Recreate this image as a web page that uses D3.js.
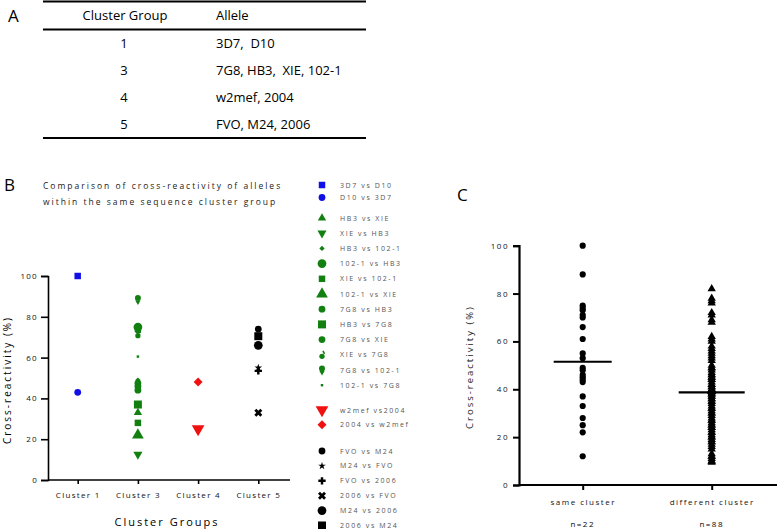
<!DOCTYPE html>
<html><head><meta charset="utf-8">
<script src="https://cdn.jsdelivr.net/npm/d3@7"></script>
<style>body{margin:0;background:#fff} text{font-family:"Open Sans","DejaVu Sans",sans-serif}</style>
</head><body>
<svg id="c" width="777" height="529"></svg>
<script>
// ---------- DATA ----------
const tableHeader = ["Cluster Group", "Allele"];
const tableGroups = ["1", "3", "4", "5"];
const tableAlleles = ["3D7,  D10", "7G8, HB3,  XIE, 102-1", "w2mef, 2004", "FVO, M24, 2006"];

const clusters = ["Cluster 1", "Cluster 3", "Cluster 4", "Cluster 5"];
const seriesNames = ["3D7 vs D10", "D10 vs 3D7",
  "HB3 vs XIE", "XIE vs HB3", "HB3 vs 102-1", "102-1 vs HB3", "XIE vs 102-1", "102-1 vs XIE",
  "7G8 vs HB3", "HB3 vs 7G8", "7G8 vs XIE", "XIE vs 7G8", "7G8 vs 102-1", "102-1 vs 7G8",
  "w2mef vs2004", "2004 vs w2mef",
  "FVO vs M24", "M24 vs FVO", "FVO vs 2006", "2006 vs FVO", "M24 vs 2006", "2006 vs M24"];
const seriesCluster = ["Cluster 1", "Cluster 1",
  "Cluster 3", "Cluster 3", "Cluster 3", "Cluster 3", "Cluster 3", "Cluster 3",
  "Cluster 3", "Cluster 3", "Cluster 3", "Cluster 3", "Cluster 3", "Cluster 3",
  "Cluster 4", "Cluster 4",
  "Cluster 5", "Cluster 5", "Cluster 5", "Cluster 5", "Cluster 5", "Cluster 5"];
const seriesValues = [[100], [43],
  [33], [12.5], [49], [75], [28], [22],
  [47.5, 44], [37], [73.5, 46], [71.5], [88.5], [60.5],
  [25], [48],
  [74], [55], [53.5], [33], [66], [70.5]];
const yTicks = [0, 20, 40, 60, 80, 100];

const groupsC = ["same cluster", "different cluster"];
const countsC = ["n=22", "n=88"];
const sameValues = [100, 88, 75, 74, 73, 71, 70, 66, 61, 55, 53, 49, 48, 46, 45, 44, 43, 37, 33, 28, 25, 22, 12];
const diffValues = [82, 78, 77, 76, 72, 71, 69, 68, 62, 61, 60, 58, 57, 56, 55, 54, 53, 52, 50, 49, 49, 48, 47, 46, 46, 45, 45, 44,
  44, 43, 42, 42, 41, 41, 40, 40, 40, 39.5, 39.5, 39, 39, 39, 39, 39,
  38.5, 38, 38, 37, 37, 36, 36, 35, 35, 34, 33, 32, 32, 31, 30, 30, 29, 28, 27, 27,
  26, 25, 25, 24, 24, 23, 22, 22, 21, 20, 20, 19, 18, 18, 17, 16, 15, 13, 12, 12, 11, 10, 10, 9.5];
const mediansC = [51.5, 38.7];

// ---------- STYLE ----------
const seriesShape = ["square", "circle",
  "triUpS", "triDown", "diamondS", "circleL", "square", "triUp",
  "circle", "squareL", "circle", "odd", "pin", "dot",
  "triDownL", "diamond",
  "circle", "star", "plus", "x", "circleL", "squareL"];
const blue = "#1010e6", green = "#118011", red = "#f01010", black = "#000";
const seriesColor = seriesCluster.map(c => c === "Cluster 1" ? blue : c === "Cluster 3" ? green : c === "Cluster 4" ? red : black);

const svg = d3.select("#c");

function marker(g, shape, color) {
  const S = (t, a) => d3.symbol().type(t).size(a)();
  const add = (d, tr) => g.append("path").attr("d", d).attr("fill", color).attr("transform", tr || null);
  switch (shape) {
    case "square": add(S(d3.symbolSquare, 42)); break;
    case "squareL": add(S(d3.symbolSquare, 64)); break;
    case "circle": add(S(d3.symbolCircle, 36)); break;
    case "circleL": add(S(d3.symbolCircle, 60)); break;
    case "triUp": add(S(d3.symbolTriangle, 60)); break;
    case "triUpS": add(S(d3.symbolTriangle, 30)); break;
    case "triDown": add(S(d3.symbolTriangle, 36), "rotate(180)"); break;
    case "triDownL": add(S(d3.symbolTriangle, 70), "rotate(180)"); break;
    case "diamondS": add(S(d3.symbolSquare, 14), "rotate(45)"); break;
    case "diamond": add(S(d3.symbolSquare, 40), "rotate(45)"); break;
    case "dot": add(S(d3.symbolSquare, 6)); break;
    case "star": add(S(d3.symbolStar, 18)); break;
    case "plus": add(S(d3.symbolCross, 30)); break;
    case "x": add(S(d3.symbolCross, 40), "rotate(45)"); break;
    case "pin":
      add(S(d3.symbolCircle, 28), "translate(0,-1.5)");
      add(S(d3.symbolTriangle, 12), "translate(0,2.5) rotate(180)");
      break;
    case "odd":
      add(S(d3.symbolCircle, 22), "translate(0,1.5)");
      g.append("path").attr("d", "M1,-4 L2.5,-1").attr("stroke", color).attr("stroke-width", 1.6);
      break;
  }
}

// ---------- PANEL A ----------
const A = svg.append("g");
A.append("text").attr("x", 8).attr("y", 22).attr("font-size", 17).text("A");
const tx0 = 43, tx1 = 366;
[[1.5, 2], [29.5, 2], [138, 2]].forEach(([y, w]) =>
  A.append("line").attr("x1", tx0).attr("x2", tx1).attr("y1", y).attr("y2", y).attr("stroke", "#000").attr("stroke-width", w));
A.append("text").attr("x", 125).attr("y", 20).attr("text-anchor", "middle").attr("font-size", 13).text(tableHeader[0]);
A.append("text").attr("x", 216).attr("y", 20).attr("font-size", 13).text(tableHeader[1]);
const rowY = d3.scalePoint().domain(tableGroups).range([48, 129]);
tableGroups.forEach((gname, i) => {
  A.append("text").attr("x", 124).attr("y", rowY(gname)).attr("text-anchor", "middle").attr("font-size", 13).text(gname);
  A.append("text").attr("x", 216).attr("y", rowY(gname)).attr("font-size", 13).style("white-space", "pre").text(tableAlleles[i]);
});

// ---------- PANEL B ----------
const B = svg.append("g");
B.append("text").attr("x", 4).attr("y", 191).attr("font-size", 17).text("B");
B.append("text").attr("x", 43).attr("y", 189).attr("font-size", 8.5).style("letter-spacing", "2px").attr("fill", "#222")
  .text("Comparison of cross-reactivity of alleles");
B.append("text").attr("x", 43).attr("y", 205).attr("font-size", 8.5).style("letter-spacing", "2px").attr("fill", "#222")
  .text("within the same sequence cluster group");

const xB = d3.scalePoint().domain(clusters).range([77.7, 258.3]);
const yB = d3.scaleLinear().domain([0, 100]).range([480, 276]);
const axL = B.append("g").attr("transform", "translate(48,0)").call(d3.axisLeft(yB).tickValues(yTicks).tickSize(7).tickPadding(3));
const axBt = B.append("g").attr("transform", "translate(0,480)").call(d3.axisBottom(xB).tickSize(4).tickPadding(8));
[axL, axBt].forEach(a => {
  a.select(".domain").attr("stroke-width", 1.6);
  a.selectAll(".tick line").attr("stroke-width", 1.6);
  a.selectAll("text").attr("font-family", "Open Sans, sans-serif").attr("font-size", 8).style("letter-spacing", "1.3px").attr("fill", "#111");
});
axBt.select(".domain").attr("d", "M48,0H290");
B.append("text").attr("transform", "translate(11,380) rotate(-90)").attr("text-anchor", "middle").attr("font-size", 10)
  .style("letter-spacing", "2px").text("Cross-reactivity (%)");
B.append("text").attr("x", 167).attr("y", 526).attr("text-anchor", "middle").attr("font-size", 11)
  .style("letter-spacing", "2px").text("Cluster Groups");

seriesNames.forEach((nm, i) => {
  seriesValues[i].forEach(v => {
    const g = B.append("g").attr("transform", `translate(${xB(seriesCluster[i])},${yB(v)})`);
    marker(g, seriesShape[i], seriesColor[i]);
  });
});

// legend
const legendGroups = [
  {start: 0, n: 2, y0: 185, step: 12.5},
  {start: 2, n: 12, y0: 218, step: 15.2},
  {start: 14, n: 2, y0: 410, step: 14.7},
  {start: 16, n: 6, y0: 451, step: 14.9}
];
legendGroups.forEach(lg => {
  for (let k = 0; k < lg.n; k++) {
    const i = lg.start + k, y = lg.y0 + k * lg.step;
    const g = B.append("g").attr("transform", `translate(322,${y})`);
    marker(g, seriesShape[i], seriesColor[i]);
    B.append("text").attr("x", 340).attr("y", y + 2.5).attr("font-size", 7).style("letter-spacing", "1.6px")
      .attr("fill", "#555").text(seriesNames[i]);
  }
});

// ---------- PANEL C ----------
const C = svg.append("g");
C.append("text").attr("x", 457).attr("y", 201).attr("font-size", 17).text("C");
const xC = d3.scalePoint().domain(groupsC).range([582.7, 711.7]);
const yC = d3.scaleLinear().domain([0, 100]).range([485, 245.7]);
const axCL = C.append("g").attr("transform", "translate(519,0)").call(d3.axisLeft(yC).tickValues(yTicks).tickSize(6).tickPadding(4));
const axCB = C.append("g").attr("transform", "translate(0,485)").call(d3.axisBottom(xC).tickSize(5).tickPadding(9));
[axCL, axCB].forEach(a => {
  a.select(".domain").attr("stroke-width", 2.2);
  a.selectAll(".tick line").attr("stroke-width", 2);
  a.selectAll("text").attr("font-family", "Open Sans, sans-serif").attr("font-size", 8).style("letter-spacing", "1.5px").attr("fill", "#111");
});
axCB.select(".domain").attr("d", "M519,0H777");
C.append("text").attr("transform", "translate(473,367) rotate(-90)").attr("text-anchor", "middle").attr("font-size", 9.5)
  .style("letter-spacing", "2px").attr("fill", "#222").text("Cross-reactivity (%)");
groupsC.forEach((gname, i) => {
  C.append("text").attr("x", xC(gname)).attr("y", 527).attr("text-anchor", "middle").attr("font-size", 8)
    .style("letter-spacing", "1.5px").text(countsC[i]);
});
sameValues.forEach(v => {
  C.append("path").attr("d", d3.symbol().type(d3.symbolCircle).size(30)()).attr("transform", `translate(${xC(groupsC[0])},${yC(v)})`);
});
diffValues.forEach(v => {
  C.append("path").attr("d", d3.symbol().type(d3.symbolTriangle).size(30)()).attr("transform", `translate(${xC(groupsC[1])},${yC(v)})`);
});
const medHalf = [29, 33];
groupsC.forEach((gname, i) => {
  C.append("line").attr("x1", xC(gname) - medHalf[i]).attr("x2", xC(gname) + medHalf[i])
    .attr("y1", yC(mediansC[i])).attr("y2", yC(mediansC[i])).attr("stroke", "#000").attr("stroke-width", 2.2);
});
</script>
</body></html>
